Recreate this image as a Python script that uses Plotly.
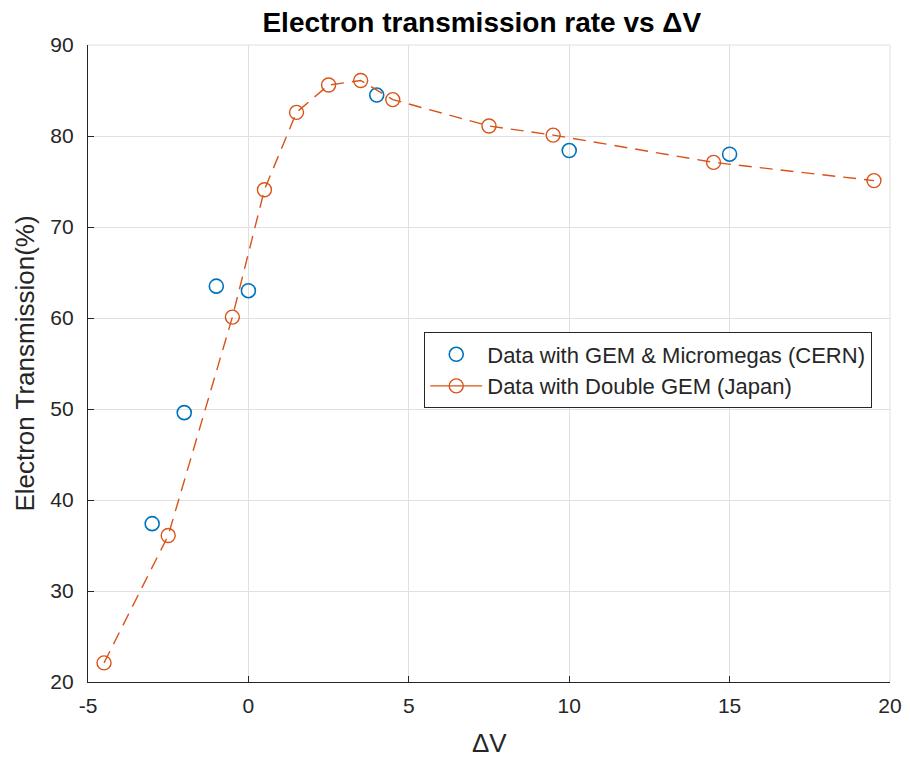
import plotly.graph_objects as go

cern_x = [-3, -2, -1, 0, 4, 10, 15]
cern_y = [37.4, 49.6, 63.5, 63.0, 84.5, 78.4, 78.0]

japan_x = [-4.5, -2.5, -0.5, 0.5, 1.5, 2.5, 3.5, 4.5, 7.5, 9.5, 14.5, 19.5]
japan_y = [22.1, 36.1, 60.1, 74.1, 82.6, 85.6, 86.1, 84.0, 81.1, 80.1, 77.1, 75.1]

x_ticks = [-5, 0, 5, 10, 15, 20]
y_ticks = [20, 30, 40, 50, 60, 70, 80, 90]

BLUE = "#0072BD"
ORANGE = "#D95319"
FONT = "Liberation Sans, Arial, sans-serif"

fig = go.Figure()
fig.add_trace(go.Scatter(
    x=cern_x, y=cern_y, mode="markers",
    name="Data with GEM & Micromegas (CERN)",
    marker=dict(symbol="circle-open", size=14, color=BLUE, line=dict(width=1.6, color=BLUE)),
))
fig.add_trace(go.Scatter(
    x=japan_x, y=japan_y, mode="lines+markers",
    name="Data with Double GEM (Japan)", showlegend=False,
    line=dict(color=ORANGE, width=1.4, dash="13px,8px"),
    marker=dict(symbol="circle-open", size=14, color=ORANGE, line=dict(width=1.4, color=ORANGE)),
))
# legend entry (MATLAB draws it with a solid line)
fig.add_trace(go.Scatter(
    x=[None], y=[None], mode="lines+markers",
    name="Data with Double GEM (Japan)",
    line=dict(color=ORANGE, width=1.4),
    marker=dict(symbol="circle-open", size=14, color=ORANGE, line=dict(width=1.4, color=ORANGE)),
))

fig.update_layout(
    width=894, height=749,
    margin=dict(l=80, r=12, t=37, b=75, autoexpand=False),
    paper_bgcolor="white", plot_bgcolor="white",
    font=dict(family=FONT, color="#262626", size=21),
    title=dict(text="<b>Electron transmission rate vs ΔV</b>", x=0.530, xanchor="center",
               y=0.981, yanchor="middle", font=dict(size=28, color="black")),
    showlegend=True,
    legend=dict(x=0.419, y=0.549, xanchor="left", yanchor="top",
                bordercolor="#262626", borderwidth=1.2, bgcolor="white",
                font=dict(size=22, color="#262626"), itemwidth=52, tracegroupgap=0),
    annotations=[dict(text="ΔV", xref="paper", yref="paper", x=0.5, y=-0.096,
                      xanchor="center", yanchor="middle", showarrow=False,
                      font=dict(size=26, color="#262626"))],
)
fig.update_xaxes(
    range=[-5, 20], tickvals=x_ticks, ticktext=[str(v) for v in x_ticks],
    showgrid=True, gridcolor="#e0e0e0", gridwidth=1,
    showline=True, linecolor="#262626", linewidth=1.2, mirror=False,
    ticks="inside", ticklen=6, tickcolor="#262626", zeroline=False,
    ticklabelstandoff=5, automargin=False,
    tickfont=dict(size=21),
)
fig.update_yaxes(
    range=[20, 90], tickvals=y_ticks, ticktext=[str(v) for v in y_ticks],
    showgrid=True, gridcolor="#e0e0e0", gridwidth=1,
    showline=True, linecolor="#262626", linewidth=1.2, mirror=False,
    ticks="inside", ticklen=6, tickcolor="#262626", zeroline=False,
    ticklabelstandoff=9, automargin=True,
    title=dict(text="Electron Transmission(%)", font=dict(size=26), standoff=8),
    tickfont=dict(size=21),
)
fig.add_shape(type="line", xref="paper", yref="paper", x0=0, x1=1, y0=1, y1=1,
              line=dict(color="#e0e0e0", width=1))
fig.add_shape(type="line", xref="paper", yref="paper", x0=1, x1=1, y0=0, y1=1,
              line=dict(color="#e0e0e0", width=1))

fig.write_html("out.html")
